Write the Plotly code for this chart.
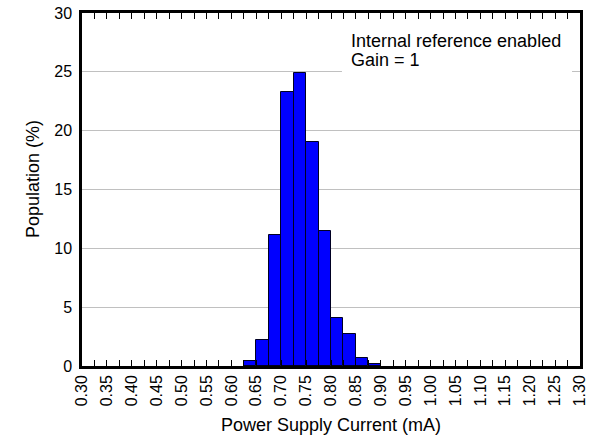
import plotly.graph_objects as go

# Histogram data: bin start (mA) and population (%), bin width 0.025 mA
bin_start = [0.625, 0.650, 0.675, 0.700, 0.725, 0.750, 0.775, 0.800, 0.825, 0.850, 0.875]
population = [0.4, 2.2, 11.1, 23.3, 24.9, 19.0, 11.5, 4.1, 2.7, 0.7, 0.2]
bin_width = 0.025

tick_values = [round(0.30 + 0.025 * i, 3) for i in range(41)]
tick_labels = [f"{v:.2f}" if i % 2 == 0 else "" for i, v in enumerate(tick_values)]

FONT = "Arial, Liberation Sans, sans-serif"

fig = go.Figure()
fig.add_trace(go.Bar(
    x=[b + bin_width / 2 for b in bin_start],
    y=population,
    width=bin_width,
    marker=dict(color="#0000FF", line=dict(color="#000022", width=1)),
    showlegend=False,
))

fig.update_layout(
    width=595, height=436,
    margin=dict(l=82, r=15, t=13, b=70, autoexpand=False),
    paper_bgcolor="white", plot_bgcolor="white",
    font=dict(family=FONT, size=16, color="black"),
    bargap=0,
    hovermode=False,
    shapes=[dict(
        type="rect", xref="paper", yref="y",
        x0=0.522, x1=0.984, y0=23.5, y1=28.9,
        fillcolor="white", line=dict(width=0), layer="above",
    )],
    annotations=[
        dict(x=0.536, y=27.6, xref="paper", yref="y",
             text="Internal reference enabled",
             showarrow=False, xanchor="left", yanchor="middle",
             font=dict(family=FONT, size=18, color="black")),
        dict(x=0.536, y=26.0, xref="paper", yref="y",
             text="Gain = 1",
             showarrow=False, xanchor="left", yanchor="middle",
             font=dict(family=FONT, size=18, color="black")),
        dict(x=0.50, y=-0.167, xref="paper", yref="paper",
             text="Power Supply Current (mA)",
             showarrow=False, xanchor="center", yanchor="middle",
             font=dict(family=FONT, size=18, color="black")),
        dict(x=-0.098, y=0.53, xref="paper", yref="paper",
             text="Population (%)", textangle=-90,
             showarrow=False, xanchor="center", yanchor="middle",
             font=dict(family=FONT, size=18, color="black")),
    ],
)

fig.update_xaxes(
    range=[0.30, 1.30], automargin=False,
    tickmode="array", tickvals=tick_values, ticktext=tick_labels,
    tickangle=-90, ticks="inside", ticklen=6, tickwidth=1, tickcolor="black",
    tickfont=dict(size=16),
    showline=True, linewidth=2.5, linecolor="black", mirror="ticks",
    showgrid=False, zeroline=False,
)
fig.update_yaxes(
    range=[0, 30], dtick=5, tick0=0, automargin=False,
    ticks="", tickfont=dict(size=16), ticklabelstandoff=4,
    ticklabeloverflow="allow",
    showline=True, linewidth=2.5, linecolor="black", mirror=True,
    showgrid=True, gridcolor="#c0c0c0", gridwidth=1, zeroline=False,
)

fig.write_html(
    "out.html",
    config={"displayModeBar": False},
    post_script="document.body.style.margin='0px';",
)
